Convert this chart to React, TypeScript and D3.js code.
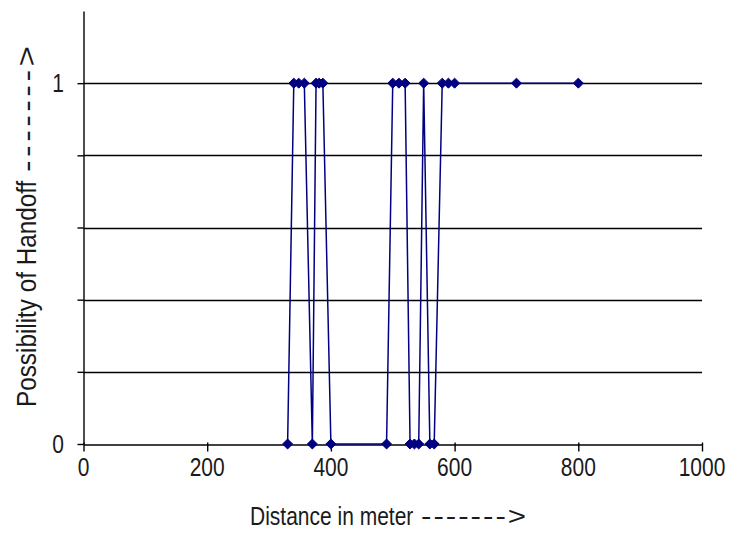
import React, { useRef, useEffect } from 'react';
import * as d3 from 'd3';

// distance (m) vs handoff decision (0 / 1)
const distances = [330, 340, 348, 357, 370, 376, 381, 387, 400, 490, 500, 510, 520, 528, 535, 542, 550, 560, 567, 580, 590, 600, 700, 800];
const handoff = [0, 1, 1, 1, 0, 1, 1, 1, 0, 0, 1, 1, 1, 0, 0, 0, 1, 0, 0, 1, 1, 1, 1, 1];

const xTicks = [0, 200, 400, 600, 800, 1000];
const yTicks = [0, 0.2, 0.4, 0.6, 0.8, 1, 1.2];
const yLabelled = [0, 1];

const xTitle = 'Distance in meter';
const yTitle = 'Possibility of Handoff';
const arrow = '------->';

export default function App() {
  const svgRef = useRef<SVGSVGElement>(null);

  useEffect(() => {
    document.body.style.margin = '0';
    if (!svgRef.current) return;

    const width = 735;
    const height = 533;
    const font = '"Liberation Sans", Arial, sans-serif';
    const ink = '#1a1a1a';

    const x = d3.scaleLinear().domain([0, 1000]).range([83.5, 702]);
    const y = d3.scaleLinear().domain([0, 1.2]).range([444, 11]);

    const svg = d3.select(svgRef.current)
      .attr('width', width)
      .attr('height', height);
    svg.selectAll('*').remove();

    svg.append('rect').attr('width', width).attr('height', height).attr('fill', '#fff');

    // horizontal grid lines
    svg.append('g')
      .selectAll('line')
      .data(yTicks.filter(d => d > 0 && d < 1.2))
      .join('line')
      .attr('x1', x(0))
      .attr('x2', x(1000))
      .attr('y1', d => Math.round(y(d)) + 0.5)
      .attr('y2', d => Math.round(y(d)) + 0.5)
      .attr('stroke', '#000')
      .attr('stroke-width', 1.4);

    // x axis
    const gx = svg.append('g')
      .attr('transform', `translate(0,${Math.round(y(0)) + 0.5})`)
      .call(d3.axisBottom(x).tickValues(xTicks).tickSize(7).tickSizeOuter(0).tickFormat(d3.format('d')) as any);
    gx.select('.domain').attr('stroke', '#000').attr('stroke-width', 1.4);
    gx.selectAll('line').attr('stroke', '#000').attr('stroke-width', 1.4).attr('y1', -2);
    gx.selectAll('text').remove();
    svg.append('g')
      .selectAll('text')
      .data(xTicks)
      .join('text')
      .attr('transform', d => `translate(${x(d)},476) scale(0.84,1)`)
      .attr('text-anchor', 'middle')
      .style('font-family', font)
      .style('font-size', '25px')
      .style('fill', ink)
      .text(d => d);

    // y axis
    const gy = svg.append('g')
      .attr('transform', `translate(${x(0)},0)`)
      .call(d3.axisLeft(y).tickValues(yTicks.filter(d => d < 1.2)).tickSize(6).tickSizeOuter(0) as any);
    gy.select('.domain').attr('stroke', '#000').attr('stroke-width', 1.4);
    gy.selectAll('line').attr('stroke', '#000').attr('stroke-width', 1.4);
    gy.selectAll('text').remove();
    svg.append('g')
      .selectAll('text')
      .data(yLabelled)
      .join('text')
      .attr('transform', d => `translate(64,${y(d) + 9}) scale(0.84,1)`)
      .attr('text-anchor', 'end')
      .style('font-family', font)
      .style('font-size', '25px')
      .style('fill', ink)
      .text(d => d);

    // axis titles, the arrow drawn as stretched dashes like the original
    svg.append('text')
      .attr('transform', 'translate(250,525) scale(0.84,1)')
      .style('font-family', font)
      .style('font-size', '25px')
      .style('fill', ink)
      .text(xTitle);
    svg.append('text')
      .attr('transform', 'translate(421,525) scale(1.25,1)')
      .attr('letter-spacing', '1.6px')
      .style('font-family', font)
      .style('font-size', '25px')
      .style('fill', ink)
      .text(arrow);

    svg.append('text')
      .attr('transform', 'translate(36,407) rotate(-90) scale(0.9,1)')
      .style('font-family', font)
      .style('font-size', '27px')
      .style('fill', ink)
      .text(yTitle);
    svg.append('text')
      .attr('transform', 'translate(36,172) rotate(-90) scale(1.3,1)')
      .attr('letter-spacing', '2.6px')
      .style('font-family', font)
      .style('font-size', '27px')
      .style('fill', ink)
      .text(arrow);

    // series
    const pts = distances.map((d, i) => [d, handoff[i]] as [number, number]);
    const line = d3.line<[number, number]>().x(d => x(d[0])).y(d => y(d[1]));
    svg.append('path')
      .datum(pts)
      .attr('d', line)
      .attr('fill', 'none')
      .attr('stroke', '#000080')
      .attr('stroke-width', 1.5);

    const sym = d3.symbol().type(d3.symbolDiamond2).size(64);
    svg.append('g')
      .selectAll('path')
      .data(pts)
      .join('path')
      .attr('transform', d => `translate(${x(d[0])},${y(d[1])})`)
      .attr('d', sym as any)
      .attr('fill', '#000080')
      .attr('stroke', '#000080')
      .attr('stroke-width', 1);
  }, []);

  return <svg ref={svgRef} style={{ display: 'block' }} />;
}
